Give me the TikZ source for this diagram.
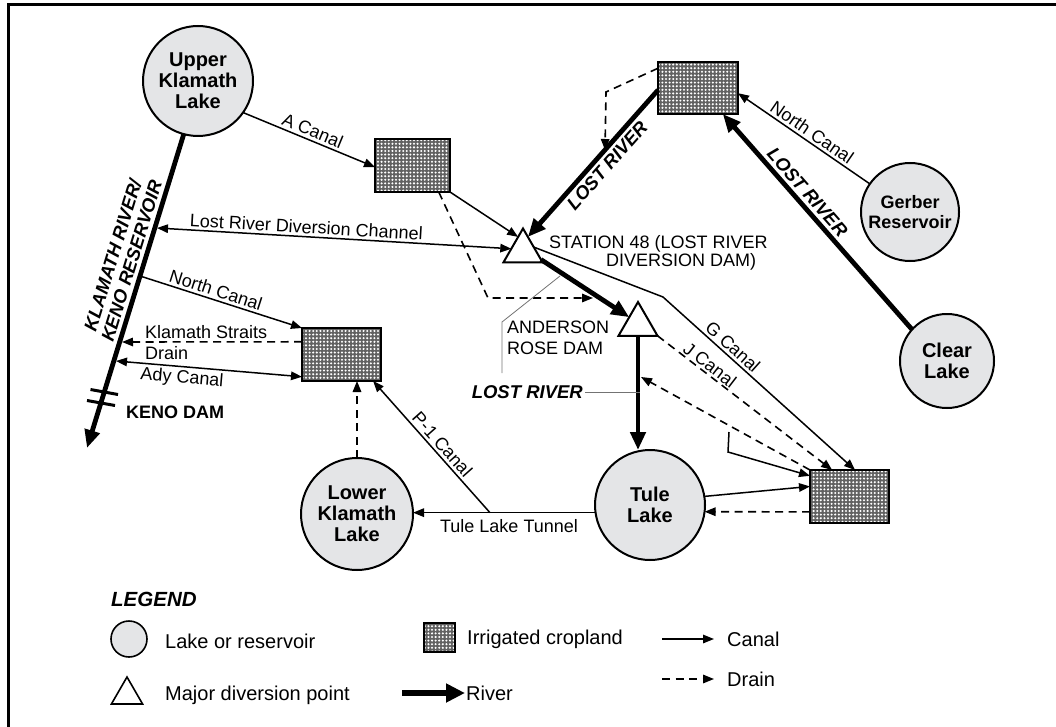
\documentclass[tikz,border=0pt]{standalone}
\usepackage{fontspec}
\setmainfont{Liberation Sans}
\usetikzlibrary{arrows.meta,shapes.geometric,patterns.meta,calc}
\definecolor{lakegray}{RGB}{228,229,231}
\tikzdeclarepattern{
  name=cropdots, type=uncolored,
  bottom left={(-1.8pt,-1.8pt)}, top right={(1.8pt,1.8pt)},
  tile size={(3.6pt,3.6pt)},
  code={\fill (0pt,0pt) circle (1.15pt);}
}
\newcommand\lblfont{\fontsize{18}{20.5}\selectfont}
\newcommand\lakefont{\bfseries\fontsize{20}{21}\selectfont}
\newcommand\riverfont{\bfseries\itshape\fontsize{18.5}{19.5}\selectfont}
\newcommand\legfont{\fontsize{20}{22}\selectfont}
\tikzset{
  ctip/.tip={Triangle[length=11pt,width=8.5pt]},
  rtip/.tip={Triangle[length=18pt,width=15pt]},
  ltip/.tip={Triangle[length=19pt,width=18pt]},
  canal/.style={line width=1.5pt},
  drain/.style={line width=1.6pt, dash pattern=on 8pt off 5.5pt},
  river/.style={line width=4.8pt},
  leader/.style={line width=0.8pt, draw=black!55},
  lake/.style={circle, draw, line width=2pt, fill=lakegray, inner sep=0pt, outer sep=0pt, align=center, font=\lakefont},
  crop/.style={rectangle, draw, line width=2.2pt, inner sep=0pt, outer sep=0pt, preaction={fill=black!62}, preaction={pattern=cropdots, pattern color=white}},
  dam/.style={regular polygon, regular polygon sides=3, draw, line width=2pt, fill=white, inner sep=0pt, outer sep=0pt, minimum size=45pt},
  lbl/.style={font=\lblfont, inner sep=0pt},
  plbl/.style={font=\lblfont, inner sep=2.5pt, sloped},
  rlbl/.style={font=\riverfont, inner sep=3pt, sloped},
  legtxt/.style={font=\legfont, inner sep=0pt},
}
\begin{document}
\begin{tikzpicture}[x=1pt,y=-1pt]
\useasboundingbox (0,0) rectangle (1056,727);
% frame
\draw[line width=3pt] (8.5,727) -- (8.5,4.5) -- (1056,4.5);

% lakes
\node[lake, minimum size=110pt] (ukl) at (198,81) {Upper\\Klamath\\Lake};
\node[lake, minimum size=112pt] (lkl) at (357,514) {Lower\\Klamath\\Lake};
\node[lake, minimum size=110pt] (tule) at (650,505) {Tule\\Lake};
\node[lake, minimum size=98pt, font=\bfseries\fontsize{18}{20}\selectfont] (gerber) at (910,212) {Gerber\\Reservoir};
\node[lake, minimum size=94pt] (clear) at (947,361) {Clear\\Lake};

% cropland
\node[crop, minimum width=75pt, minimum height=53pt] (cropA) at (412.5,165.5) {};
\node[crop, minimum width=80pt, minimum height=52pt] (cropTR) at (698,88) {};
\node[crop, minimum width=79pt, minimum height=53pt] (cropKS) at (341.5,354.5) {};
\node[crop, minimum width=79pt, minimum height=53pt] (cropBR) at (849.5,496.5) {};

% dams
\node[dam] (st48) at (523,251) {};
\node[dam] (ars) at (638,324.5) {};

% coordinates
\coordinate (krEnd) at (87,448);
\coordinate (kLRDC) at (157,228);
\coordinate (kNC) at (140,276);
\coordinate (kKS) at (122,342);
\coordinate (kAdy) at (116,361);
\coordinate (dA1) at (488,298);
\coordinate (dA2) at (593,298);
\coordinate (dT1) at (606,92);
\coordinate (dT2) at (605,150);
\coordinate (g1) at (663,297);
\coordinate (riv1) at (641,377);
\coordinate (c1) at (729,432);
\coordinate (c2) at (728,452);
\coordinate (p1) at (490,512.7);
\coordinate (al1) at (560,276);
\coordinate (al2) at (502,322);
\coordinate (al3) at (502,373);

% Klamath River
\draw[river,-rtip] (ukl.255) -- (krEnd);
\draw[line width=3pt] (90.5,389.5) -- (118,394.5);
\draw[line width=3pt] (87,400.5) -- (115,405.5);
\node[rotate=72.9, font=\riverfont, align=center, inner sep=0pt] (krlbl) at (122,258) {KLAMATH RIVER/\\KENO RESERVOIR};
\node[font=\bfseries\fontsize{18}{20}\selectfont, anchor=west, inner sep=0pt] (keno) at (126,412.5) {KENO DAM};

% west side
\draw[canal,-ctip] (ukl.-35) -- ($(cropA.north west)!0.53!(cropA.south west)$) node[plbl, midway, above] {A Canal};
\draw[canal,-ctip] (cropA.south east) -- ($(st48.corner 1)!0.25!(st48.corner 2)$);
\draw[drain,-ctip] ($(cropA.south west)!0.85!(cropA.south east)$) -- (dA1) -- (dA2);
\draw[canal,ctip-ctip] (kLRDC) -- ($(st48.corner 1)!0.6!(st48.corner 2)$) node[plbl, pos=0.42, above] {Lost River Diversion Channel};
\draw[canal,-ctip] (kNC) -- (cropKS.north west) node[plbl, pos=0.45, above] {North Canal};
\draw[drain,-ctip] ($(cropKS.north west)!0.26!(cropKS.south west)$) -- (kKS);
\node[lbl, anchor=west] (kslbl) at (145,332) {Klamath Straits};
\node[lbl, anchor=west] (drlbl) at (145,353) {Drain};
\draw[canal,ctip-ctip] (kAdy) -- ($(cropKS.north west)!0.92!(cropKS.south west)$) node[plbl, pos=0.36, below] {Ady Canal};
\draw[drain,-ctip] (lkl.north) -- (lkl.north |- cropKS.south);
\draw[canal,-ctip] (tule.188) -- (tule.188 -| lkl.east) node[lbl, pos=0.474, below=6pt] {Tule Lake Tunnel};
\draw[canal,ctip-] ($(cropKS.south west)!0.9!(cropKS.south east)$) -- (p1) node[plbl, pos=0.53, above] {P-1 Canal};

% east side
\draw[river,rtip-] ($(cropTR.south west)!0.81!(cropTR.south east)$) -- (clear.138) node[rlbl, pos=0.4, above] {LOST RIVER};
\draw[canal,ctip-] ($(cropTR.north east)!0.6!(cropTR.south east)$) -- (gerber.145) node[plbl, pos=0.52, above] {North Canal};
\draw[river,rtip-] ($(st48.corner 1)!0.25!(st48.corner 3)$) -- ($(cropTR.north west)!0.54!(cropTR.south west)$) node[rlbl, pos=0.54, below] {LOST RIVER};
\draw[drain,-ctip] ($(cropTR.north west)!0.12!(cropTR.south west)$) -- (dT1) -- (dT2);

\node[lbl, anchor=west] (st48a) at (549,244) {STATION 48 (LOST RIVER};
\node[lbl, anchor=west] (st48b) at (606,262) {DIVERSION DAM)};

\draw[river,-rtip] ($(st48.corner 1)!0.92!(st48.corner 3)$) -- ($(ars.corner 1)!0.45!(ars.corner 2)$);
\draw[leader] (al1) -- (al2) -- (al3);
\node[lbl, anchor=west, align=left] (arslbl) at (507,338) {ANDERSON\\ROSE DAM};

\draw[canal,-ctip] ($(st48.corner 1)!0.55!(st48.corner 3)$) -- (g1) -- ($(cropBR.north west)!0.57!(cropBR.north east)$) node[plbl, pos=0.33, above] {G Canal};
\draw[drain,-ctip] (ars.corner 3) -- ($(cropBR.north west)!0.28!(cropBR.north east)$) node[plbl, pos=0.27, above, inner sep=1.5pt] {J Canal};
\draw[drain,-ctip] (cropBR.north west) -- (riv1);
\draw[canal,-ctip] (c1) -- (c2) -- ($(cropBR.north west)!0.11!(cropBR.south west)$);
\draw[canal,-ctip] (tule.9) -- ($(cropBR.north west)!0.31!(cropBR.south west)$);
\draw[drain,-ctip] ($(cropBR.north west)!0.79!(cropBR.south west)$) -- (tule.-7);

\draw[river,-rtip] (ars.south) -- (ars.south |- tule.north);
\node[font=\riverfont, inner sep=0pt, anchor=east] (lrlbl) at (583,392) {LOST RIVER};
\draw[leader] ([xshift=2pt]lrlbl.east) -- ([xshift=2pt]lrlbl.east -| ars.south);

% legend
\node[font=\bfseries\itshape\fontsize{20.5}{22}\selectfont, anchor=west, inner sep=0pt] (leg) at (111,599) {LEGEND};
\node[lake, minimum size=36pt, line width=1.6pt] (legLake) at (129,639) {};
\node[legtxt, anchor=west] (legLakeT) at (165,641) {Lake or reservoir};
\node[dam, minimum size=36pt, line width=1.6pt] (legDam) at (127,695) {};
\node[legtxt, anchor=west] (legDamT) at (165,695) {Major diversion point};
\node[crop, minimum width=31pt, minimum height=29pt, line width=1.6pt] (legCrop) at (439.5,637.5) {};
\node[legtxt, anchor=west] (legCropT) at (467,639) {Irrigated cropland};
\node[legtxt, anchor=west] (legRiverT) at (466,693) {River};
\coordinate (legR0) at (402,693);
\draw[line width=6.5pt,-ltip] (legR0) -- ([xshift=-1pt]legRiverT.west);
\node[legtxt, anchor=west] (legCanalT) at (727,639) {Canal};
\coordinate (legC0) at (662,639);
\draw[canal,-ctip] (legC0) -- ([xshift=-13pt]legCanalT.west);
\node[legtxt, anchor=west] (legDrainT) at (727,679) {Drain};
\coordinate (legD0) at (662,679);
\draw[drain,-ctip] (legD0) -- ([xshift=-13pt]legDrainT.west);
\end{tikzpicture}
\end{document}
